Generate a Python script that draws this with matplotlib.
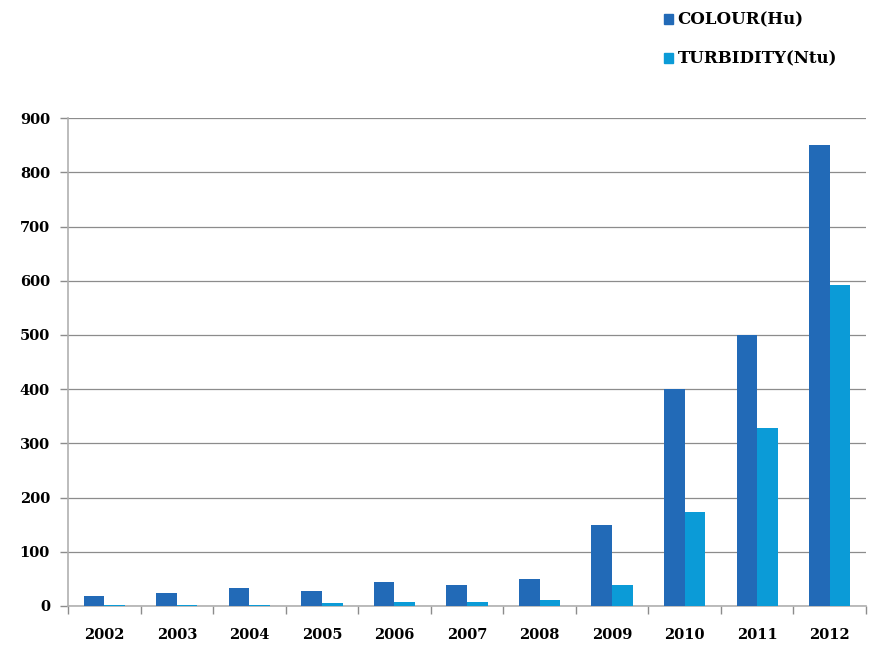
import matplotlib
matplotlib.use("Agg")
import matplotlib.pyplot as plt
import numpy as np
from matplotlib.patches import Patch

# data
years = ["2002", "2003", "2004", "2005", "2006", "2007",
         "2008", "2009", "2010", "2011", "2012"]
colour_hu = [19, 23, 34, 28, 44, 39, 49, 150, 400, 500, 850]
turbidity_ntu = [2, 2, 2, 6, 8, 7, 11, 38, 173, 328, 593]
yticks = [0, 100, 200, 300, 400, 500, 600, 700, 800, 900]

c_colour = "#226ab7"
c_turb = "#0b9bd7"
grid_c = "#8c8c8c"

plt.rcParams["font.family"] = ["DejaVu Serif"]

fig = plt.figure(figsize=(8.76, 6.46), dpi=100)
ax = fig.add_axes([0.0776, 0.062, 0.911, 0.755])

x = np.arange(len(years))
w = 0.285
ax.bar(x - w / 2, colour_hu, w, color=c_colour, zorder=3)
ax.bar(x + w / 2, turbidity_ntu, w, color=c_turb, zorder=3)

ax.set_xlim(-0.5, len(years) - 0.5)
ax.set_ylim(0, 900)
ax.set_yticks(yticks)
ax.set_yticklabels([str(v) for v in yticks], fontsize=10.5, fontweight="bold")
ax.yaxis.grid(True, color=grid_c, linewidth=0.9, zorder=0)

# year labels in the middle, tick marks on the group borders
ax.set_xticks(x)
ax.set_xticklabels(years, fontsize=10.5, fontweight="bold")
ax.set_xticks(np.arange(len(years) + 1) - 0.5, minor=True)
ax.tick_params(axis="x", which="major", length=0, pad=16)
ax.tick_params(axis="x", which="minor", length=6, color=grid_c, width=1)
ax.tick_params(axis="y", length=6, color=grid_c, width=1, pad=7)

for side in ["top", "right"]:
    ax.spines[side].set_visible(False)
for side in ["left", "bottom"]:
    ax.spines[side].set_color("#b0b0b0")
    ax.spines[side].set_linewidth(1.2)

handles = [Patch(color=c_colour, label="COLOUR(Hu)"),
           Patch(color=c_turb, label="TURBIDITY(Ntu)")]
fig.legend(handles=handles, loc="upper left", bbox_to_anchor=(0.741, 1.005),
           frameon=False, handlelength=0.55, handleheight=0.55,
           handletextpad=0.25, labelspacing=1.3,
           prop={"size": 12, "weight": "bold"})

fig.savefig("out.png", dpi=100)
